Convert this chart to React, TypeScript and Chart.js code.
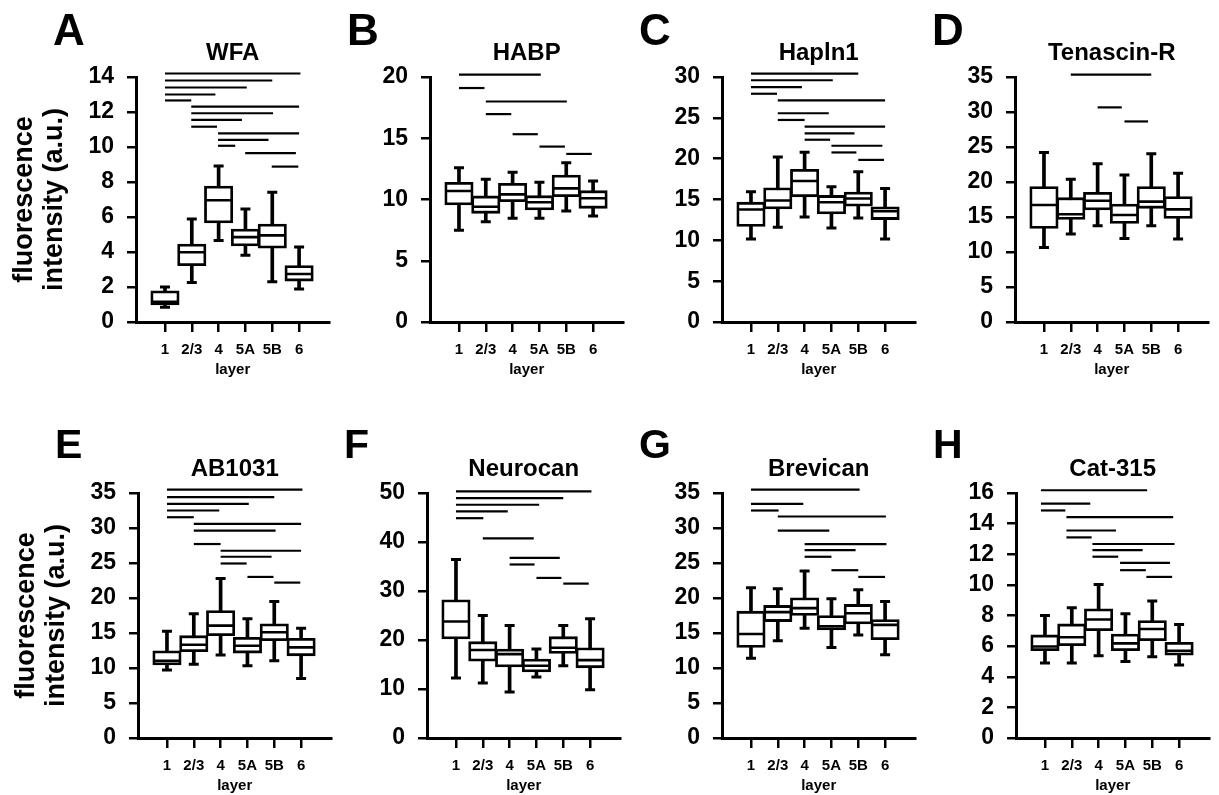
import React, { useEffect, useRef } from 'react';
import { Chart, registerables } from 'chart.js';

Chart.register(...registerables);

const FONT = "'Liberation Sans', Arial, Helvetica, sans-serif";

const LAYERS = ['1', '2/3', '4', '5A', '5B', '6'];

// box rows: [whisker low, Q1, median, Q3, whisker high] per layer
const WFA_BOXES = [
  [0.85, 0.98, 1.15, 1.78, 2.0],
  [2.26, 3.22, 3.99, 4.45, 5.89],
  [4.66, 5.66, 6.96, 7.77, 8.92],
  [3.82, 4.35, 4.85, 5.31, 6.46],
  [2.3, 4.22, 4.95, 5.6, 7.42],
  [1.88, 2.34, 2.74, 3.22, 4.28],
];
// significance bars: [from layer position, to layer position, height]
const WFA_SIG = [
  [1, 6.05, 14.2], [1, 5.0, 13.8], [1, 4.05, 13.4], [1, 2.88, 13.0], [1, 1.98, 12.66],
  [1.98, 6.0, 12.31], [1.98, 5.03, 11.93], [1.98, 3.87, 11.55], [1.98, 2.94, 11.16],
  [2.98, 6.0, 10.78], [2.98, 4.86, 10.41], [2.98, 3.62, 10.07],
  [3.99, 5.88, 9.65], [4.98, 5.97, 8.88],
];

const HABP_BOXES = [
  [7.5, 9.55, 10.7, 11.4, 12.6],
  [8.19, 8.87, 9.41, 10.29, 11.65],
  [8.46, 9.82, 10.42, 11.32, 12.22],
  [8.46, 9.14, 9.77, 10.31, 11.4],
  [9.06, 10.23, 10.91, 12.0, 13.0],
  [8.65, 9.28, 10.1, 10.72, 11.51],
];
const HABP_SIG = [
  [1, 4.05, 20.19], [1, 1.95, 19.1], [2, 5.02, 18.0], [2, 2.95, 16.97],
  [3, 3.94, 15.33], [4, 4.95, 14.32], [5, 5.95, 13.72],
];

const HAPLN1_BOXES = [
  [10.15, 11.71, 13.77, 14.67, 15.95],
  [11.59, 13.85, 14.88, 16.44, 20.2],
  [12.86, 15.33, 17.26, 18.7, 20.8],
  [11.5, 13.23, 14.67, 15.5, 16.56],
  [12.74, 14.18, 15.12, 15.9, 18.41],
  [10.15, 12.54, 13.56, 14.1, 16.36],
];
const HAPLN1_SIG = [
  [1, 5.0, 30.41], [1, 4.05, 29.6], [1, 2.9, 28.77], [1, 1.97, 27.95],
  [2, 6.0, 27.13], [2, 3.9, 25.56], [2, 3.0, 24.74],
  [3, 6.0, 23.92], [3, 4.86, 23.1], [3, 3.95, 22.32],
  [4, 5.9, 21.58], [4, 4.93, 20.76], [5, 5.96, 19.85],
];

const TNR_BOXES = [
  [10.65, 13.37, 16.71, 19.34, 24.2],
  [12.56, 14.66, 15.4, 17.76, 20.39],
  [13.75, 16.0, 17.33, 18.53, 22.59],
  [11.94, 14.09, 15.28, 16.86, 21.0],
  [13.75, 16.24, 17.19, 19.34, 24.02],
  [11.84, 14.8, 16.09, 17.91, 21.25],
];
const TNR_SIG = [[2, 5.0, 35.34], [3, 3.9, 30.66], [4, 4.88, 28.65]];

const AB1031_BOXES = [
  [9.73, 10.45, 11.03, 12.46, 15.24],
  [10.55, 12.32, 13.33, 14.62, 17.74],
  [11.84, 14.62, 16.06, 18.22, 22.77],
  [10.31, 12.13, 13.18, 14.38, 17.02],
  [11.03, 13.9, 15.1, 16.3, 19.51],
  [8.49, 11.74, 12.94, 14.24, 15.68],
];
const AB1031_SIG = [
  [1, 6.05, 35.47], [1, 5.0, 34.42], [1, 4.05, 33.46], [1, 2.95, 32.5], [1, 2.0, 31.54],
  [2, 6.0, 30.58], [2, 5.05, 29.63], [2, 3.0, 27.71],
  [3, 6.0, 26.75], [3, 4.9, 25.89], [3, 3.97, 24.93],
  [4, 4.97, 23.01], [5, 5.97, 22.2],
];

const NEUROCAN_BOXES = [
  [12.26, 20.21, 23.77, 28.22, 36.44],
  [11.23, 15.68, 17.95, 19.66, 25.0],
  [9.38, 14.52, 17.12, 18.15, 22.95],
  [12.47, 13.49, 14.73, 16.1, 18.15],
  [14.73, 17.26, 18.42, 20.68, 22.95],
  [9.86, 14.32, 15.89, 18.42, 24.32],
];
const NEUROCAN_SIG = [
  [1, 6.05, 50.34], [1, 5.0, 48.97], [1, 4.1, 47.6], [1, 2.93, 46.23], [1, 2.02, 44.86],
  [2, 3.9, 40.75], [3, 4.87, 36.78], [3, 3.93, 35.41], [4, 4.93, 32.67], [5, 5.95, 31.51],
];

const BREVICAN_BOXES = [
  [11.41, 12.94, 14.86, 18.12, 21.48],
  [13.9, 16.63, 17.98, 18.94, 21.33],
  [15.68, 17.5, 18.55, 20.04, 23.87],
  [12.94, 15.44, 15.96, 17.5, 19.89],
  [14.72, 16.3, 17.83, 19.08, 21.19],
  [11.89, 14.05, 16.16, 16.92, 19.51],
];
const BREVICAN_SIG = [
  [1, 5.05, 35.47], [1, 2.95, 33.46], [1, 2.03, 32.5],
  [2, 6.03, 31.64], [2, 3.92, 29.63],
  [3, 6.05, 27.71], [3, 4.9, 26.85], [3, 4.0, 25.89],
  [4, 5.0, 23.97], [5, 6.0, 23.01],
];

const CAT315_BOXES = [
  [4.89, 5.7, 5.98, 6.73, 8.0],
  [4.89, 6.03, 6.58, 7.45, 8.5],
  [5.37, 7.01, 7.74, 8.44, 10.02],
  [5.0, 5.7, 6.18, 6.79, 8.11],
  [5.3, 6.36, 7.12, 7.67, 8.94],
  [4.76, 5.41, 5.7, 6.25, 7.41],
];
const CAT315_SIG = [
  [0.85, 4.81, 16.18], [0.85, 2.69, 15.3], [0.85, 1.76, 14.86],
  [1.8, 5.78, 14.42], [1.8, 3.65, 13.55], [1.8, 2.74, 13.1],
  [2.77, 5.83, 12.67], [2.77, 4.64, 12.27], [2.77, 3.73, 11.84],
  [3.8, 5.66, 11.44], [3.8, 4.76, 10.96], [4.78, 5.74, 10.52],
];

const Y_TITLE = ['fluorescence', 'intensity (a.u.)'];

type PanelDef = {
  letter: string; title: string; boxes: number[][]; sig: number[][];
  yMax: number; yStep: number; axisX: number; row: number; yTitle?: boolean;
};

const PANELS: PanelDef[] = [
  { letter: 'A', title: 'WFA', boxes: WFA_BOXES, sig: WFA_SIG, yMax: 14, yStep: 2, axisX: 136, row: 0, yTitle: true },
  { letter: 'B', title: 'HABP', boxes: HABP_BOXES, sig: HABP_SIG, yMax: 20, yStep: 5, axisX: 430, row: 0 },
  { letter: 'C', title: 'Hapln1', boxes: HAPLN1_BOXES, sig: HAPLN1_SIG, yMax: 30, yStep: 5, axisX: 722, row: 0 },
  { letter: 'D', title: 'Tenascin-R', boxes: TNR_BOXES, sig: TNR_SIG, yMax: 35, yStep: 5, axisX: 1015, row: 0 },
  { letter: 'E', title: 'AB1031', boxes: AB1031_BOXES, sig: AB1031_SIG, yMax: 35, yStep: 5, axisX: 138, row: 1, yTitle: true },
  { letter: 'F', title: 'Neurocan', boxes: NEUROCAN_BOXES, sig: NEUROCAN_SIG, yMax: 50, yStep: 10, axisX: 427, row: 1 },
  { letter: 'G', title: 'Brevican', boxes: BREVICAN_BOXES, sig: BREVICAN_SIG, yMax: 35, yStep: 5, axisX: 722, row: 1 },
  { letter: 'H', title: 'Cat-315', boxes: CAT315_BOXES, sig: CAT315_SIG, yMax: 16, yStep: 2, axisX: 1016, row: 1 },
];

const Y_AXIS_W = 136;
const CANVAS_W = 345;
const CANVAS_H = 379;
const ROW_TOP = [0, 416];

const letterPlugin = {
  id: 'panelLetter',
  afterDraw(chart: any, _args: any, opts: any) {
    const { ctx, chartArea } = chart;
    ctx.save();
    ctx.font = `bold ${opts.size}px ${FONT}`;
    ctx.fillStyle = '#000';
    ctx.textBaseline = 'alphabetic';
    ctx.textAlign = 'left';
    ctx.fillText(opts.text, chartArea.left - 83, opts.baseline);
    ctx.restore();
  },
};

function makeConfig(p: PanelDef): any {
  const whiskers = p.boxes.map((b, i) => ({ x: i + 1, y: [b[0], b[4]] }));
  const boxes = p.boxes.map((b, i) => ({ x: i + 1, y: [b[1], b[3]] }));
  const medians = p.boxes.map((b, i) => ({ x: i + 1, y: b[2] }));
  const caps = p.boxes.flatMap((b, i) => [{ x: i + 1, y: b[0] }, { x: i + 1, y: b[4] }]);
  const sigSets = p.sig.map(([a, b, y]) => ({
    type: 'line',
    data: [{ x: a, y }, { x: b, y }],
    borderColor: '#000',
    borderWidth: 2.2,
    pointRadius: 0,
    clip: false,
    order: 1,
  }));
  return {
    type: 'bar',
    data: {
      datasets: [
        { type: 'bar', data: whiskers, backgroundColor: '#000', borderWidth: 0, barThickness: 3, grouped: false, order: 5 },
        {
          type: 'bar', data: boxes, backgroundColor: '#fff', borderColor: '#000', borderWidth: 2.8,
          borderSkipped: false, barThickness: 28.4, grouped: false, order: 4,
        },
        {
          type: 'line', data: medians, showLine: false, pointStyle: 'line', pointRadius: 13,
          borderColor: '#000', pointBorderColor: '#000', pointBorderWidth: 2.6, order: 3,
        },
        {
          type: 'line', data: caps, showLine: false, pointStyle: 'line', pointRadius: 5,
          borderColor: '#000', pointBorderColor: '#000', pointBorderWidth: 3, order: 2,
        },
        ...sigSets,
      ],
    },
    options: {
      animation: false,
      responsive: false,
      events: [],
      devicePixelRatio: 1,
      layout: { padding: { top: 38.6, left: 0, right: 2, bottom: 0 } },
      plugins: {
        legend: { display: false },
        tooltip: { enabled: false },
        title: {
          display: true, text: p.title, fullSize: false, color: '#000',
          font: { size: 24, weight: 'bold', family: FONT, lineHeight: 1.2 },
          padding: { top: 0, bottom: 9.6 },
        },
        panelLetter: { text: p.letter, size: p.row === 0 ? 44 : 41, baseline: p.row === 0 ? 45 : 42 },
      },
      scales: {
        x: {
          type: 'linear', min: -0.08, max: 7.13, offset: false,
          afterBuildTicks: (s: any) => { s.ticks = LAYERS.map((_, i) => ({ value: i + 1 })); },
          afterFit: (s: any) => { s.height = 57; },
          ticks: {
            callback: (_v: any, i: number) => LAYERS[i],
            font: { size: 15, weight: 'bold', family: FONT }, color: '#000',
            padding: 9, autoSkip: false, maxRotation: 0,
          },
          grid: { display: true, drawOnChartArea: false, drawTicks: true, tickLength: 10, color: '#000', lineWidth: 2.5, offset: false },
          border: { display: true, color: '#000', width: 3 },
          title: { display: true, text: 'layer', color: '#000', font: { size: 15, weight: 'bold', family: FONT, lineHeight: 1.2 }, padding: { top: 0, bottom: 0 } },
        },
        y: {
          type: 'linear', min: 0, max: p.yMax,
          afterFit: (s: any) => { s.width = Y_AXIS_W; },
          ticks: { stepSize: p.yStep, font: { size: 23, weight: 'bold', family: FONT }, color: '#000', padding: 13, autoSkip: false },
          grid: { display: true, drawOnChartArea: false, drawTicks: true, tickLength: 9, color: '#000', lineWidth: 2.5 },
          border: { display: true, color: '#000', width: 3 },
          title: p.yTitle
            ? { display: true, text: Y_TITLE, color: '#000', font: { size: 27, weight: 'bold', family: FONT, lineHeight: 1.11 }, padding: { top: 9.7, bottom: 0 } }
            : { display: false },
        },
      },
    },
    plugins: [letterPlugin],
  };
}

function Panel({ p }: { p: PanelDef }) {
  const ref = useRef<HTMLCanvasElement>(null);
  useEffect(() => {
    if (!ref.current) return;
    const chart = new Chart(ref.current, makeConfig(p));
    return () => chart.destroy();
  }, [p]);
  return (
    <canvas
      ref={ref}
      width={CANVAS_W}
      height={CANVAS_H}
      style={{ position: 'absolute', left: p.axisX - Y_AXIS_W, top: ROW_TOP[p.row], width: CANVAS_W, height: CANVAS_H }}
    />
  );
}

export default function App() {
  return (
    <div style={{ position: 'fixed', left: 0, top: 0, width: 1219, height: 795, overflow: 'hidden', background: '#fff' }}>
      {PANELS.map((p) => <Panel key={p.letter} p={p} />)}
    </div>
  );
}
